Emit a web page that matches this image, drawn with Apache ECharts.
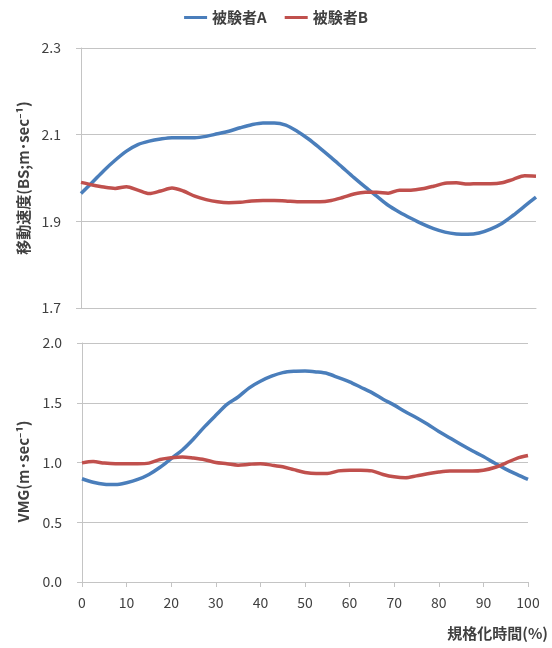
<!DOCTYPE html>
<html>
<head>
<meta charset="utf-8">
<script src="https://cdn.jsdelivr.net/npm/echarts@6/dist/echarts.min.js"></script>
<style>
html,body{margin:0;padding:0;background:#fff;}
#chart{width:552px;height:648px;}
</style>
</head>
<body>
<div id="chart"></div>
<script>
// normalized time (%)
const timePct = [0,2.5,5,7.5,10,12.5,15,17.5,20,22.5,25,27.5,30,32.5,35,37.5,40,42.5,45,47.5,50,52.5,55,57.5,60,62.5,65,67.5,70,72.5,75,77.5,80,82.5,85,87.5,90,92.5,95,97.5,100];
// 移動速度 (BS; m·sec-1)
const speedA = [1.964,1.990,2.017,2.041,2.062,2.077,2.085,2.090,2.093,2.093,2.093,2.096,2.102,2.108,2.116,2.123,2.127,2.127,2.122,2.108,2.090,2.069,2.047,2.024,2.001,1.979,1.958,1.937,1.921,1.907,1.894,1.883,1.875,1.871,1.870,1.873,1.882,1.895,1.914,1.935,1.956];
const speedB = [1.990,1.984,1.979,1.976,1.980,1.972,1.964,1.970,1.977,1.970,1.958,1.950,1.945,1.943,1.944,1.947,1.948,1.948,1.947,1.945,1.945,1.945,1.948,1.955,1.963,1.967,1.967,1.965,1.972,1.972,1.975,1.981,1.988,1.989,1.986,1.987,1.987,1.989,1.997,2.005,2.004];
// VMG (m·sec-1)
const vmgA = [0.864,0.835,0.818,0.815,0.831,0.858,0.900,0.960,1.033,1.105,1.197,1.300,1.395,1.487,1.548,1.625,1.680,1.722,1.752,1.763,1.765,1.758,1.745,1.710,1.675,1.630,1.585,1.530,1.480,1.425,1.375,1.320,1.260,1.205,1.150,1.098,1.050,0.995,0.945,0.900,0.858];
const vmgB = [0.997,1.008,0.995,0.989,0.990,0.990,0.995,1.025,1.040,1.047,1.037,1.023,1.000,0.990,0.978,0.985,0.990,0.978,0.964,0.940,0.917,0.908,0.908,0.930,0.936,0.936,0.930,0.900,0.880,0.872,0.888,0.906,0.920,0.928,0.928,0.928,0.935,0.958,0.995,1.035,1.058];
const seriesNames = ['被験者A','被験者B'];
const xTicks = [0,10,20,30,40,50,60,70,80,90,100];

const FONT = '"Noto Sans CJK JP","Noto Sans",sans-serif';
const BLUE = '#4a7ebb';
const RED = '#c0504d';
const GRID = '#c4c4c4';
const pairs = ys => timePct.map((x,i)=>[x, ys[i]]);

const chart = echarts.init(document.getElementById('chart'), null, {renderer:'canvas'});
const lineStyle = c => ({color:c, width:3.5});
chart.setOption({
  animation:false,
  backgroundColor:'#fff',
  textStyle:{fontFamily:FONT},
  legend:{
    data:seriesNames, top:5, left:'center', icon:'rect', itemWidth:23, itemHeight:3, itemGap:18, itemTextGap:3,
    textStyle:{fontFamily:FONT, fontSize:15, color:'#404040', fontWeight:'bold'}
  },
  grid:[
    {left:81, right:16, top:48, height:260},
    {left:82, right:24, top:343, height:239}
  ],
  xAxis:[
    {gridIndex:0, type:'value', min:0, max:100, interval:10,
     axisLine:{show:true, onZero:false, lineStyle:{color:GRID}}, axisTick:{show:false},
     axisLabel:{show:false}, splitLine:{show:false}},
    {gridIndex:1, type:'value', min:0, max:100, interval:10,
     axisLine:{show:true, onZero:false, lineStyle:{color:GRID}},
     axisTick:{show:true, length:5, lineStyle:{color:GRID}},
     axisLabel:{margin:14, fontSize:14, color:'#404040', fontFamily:FONT,
       formatter:v=> xTicks.includes(v) ? String(v) : ''},
     splitLine:{show:false},
     name:'規格化時間(%)', nameLocation:'end', nameGap:20,
     nameTextStyle:{fontFamily:FONT, fontSize:15, fontWeight:'bold', color:'#404040', align:'right', verticalAlign:'top', padding:[44,0,0,0]}}
  ],
  yAxis:[
    {gridIndex:0, type:'value', min:1.7, max:2.3, interval:0.2,
     axisLine:{show:true, lineStyle:{color:GRID}},
     axisTick:{show:true, length:5, lineStyle:{color:GRID}},
     axisLabel:{margin:20, fontSize:14, color:'#404040', fontFamily:FONT, formatter:v=>v.toFixed(1)},
     splitLine:{show:true, lineStyle:{color:GRID, width:1.2}},
     name:'移動速度(BS;m･sec⁻¹)', nameLocation:'middle', nameGap:50, nameRotate:90,
     nameTextStyle:{fontFamily:FONT, fontSize:15, fontWeight:'bold', color:'#404040'}},
    {gridIndex:1, type:'value', min:0, max:2, interval:0.5,
     axisLine:{show:true, lineStyle:{color:GRID}},
     axisTick:{show:true, length:5, lineStyle:{color:GRID}},
     axisLabel:{margin:20, fontSize:14, color:'#404040', fontFamily:FONT, formatter:v=>v.toFixed(1)},
     splitLine:{show:true, lineStyle:{color:GRID, width:1.2}},
     name:'VMG(m･sec⁻¹)', nameLocation:'middle', nameGap:51, nameRotate:90,
     nameTextStyle:{fontFamily:FONT, fontSize:15, fontWeight:'bold', color:'#404040', padding:[0,18,0,0]}}
  ],
  series:[
    {name:seriesNames[0], type:'line', xAxisIndex:0, yAxisIndex:0, data:pairs(speedA), showSymbol:false, smooth:0.3, lineStyle:lineStyle(BLUE), itemStyle:{color:BLUE}},
    {name:seriesNames[1], type:'line', xAxisIndex:0, yAxisIndex:0, data:pairs(speedB), showSymbol:false, smooth:0.3, lineStyle:lineStyle(RED), itemStyle:{color:RED}},
    {name:seriesNames[0], type:'line', xAxisIndex:1, yAxisIndex:1, data:pairs(vmgA), showSymbol:false, smooth:0.3, lineStyle:lineStyle(BLUE), itemStyle:{color:BLUE}},
    {name:seriesNames[1], type:'line', xAxisIndex:1, yAxisIndex:1, data:pairs(vmgB), showSymbol:false, smooth:0.3, lineStyle:lineStyle(RED), itemStyle:{color:RED}}
  ]
});
</script>
</body>
</html>
